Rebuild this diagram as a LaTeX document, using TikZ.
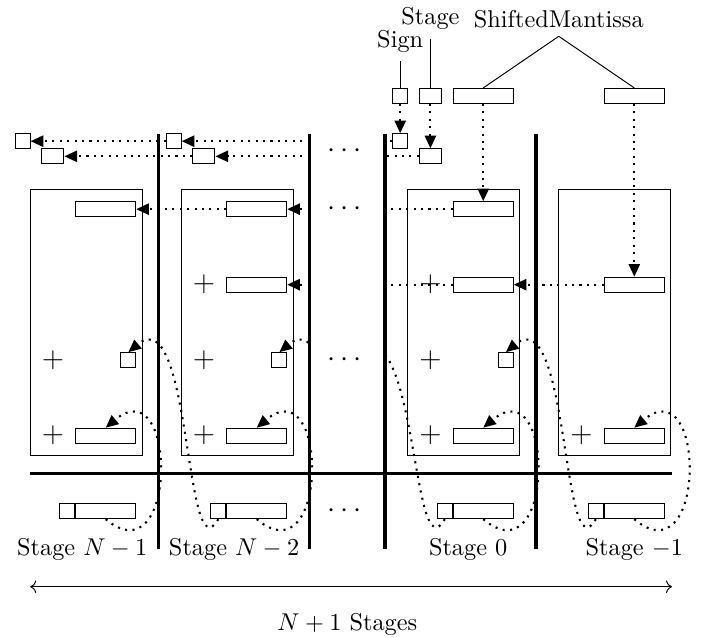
\documentclass[tikz,border=0pt]{standalone}
\usepackage{amsmath}
\usetikzlibrary{arrows.meta,positioning}

\begin{document}
\begin{tikzpicture}[x=1.092cm, y=1.092cm,
  stagebox/.style={draw, minimum width=16.2mm, minimum height=38.4mm,
                   inner sep=0pt},
  wbox/.style={draw, minimum width=8.68mm, minimum height=2.17mm, inner sep=0pt},
  sqbox/.style={draw, minimum width=2.17mm, minimum height=2.17mm, inner sep=0pt},
  mbox/.style={draw, minimum width=3.2mm, minimum height=2.17mm, inner sep=0pt},
  plus/.style={font=\large, inner sep=0pt},
  dots/.style={font=\large, inner sep=0pt},
  flow/.style={line width=0.85pt, dash pattern=on 0.85pt off 2.2pt},
  arr/.style={flow, -{Triangle[length=5.2pt, width=4.6pt]}},
  wall/.style={line width=1.4pt}]
\useasboundingbox (-0.4,-2.17) rectangle (8.91,6.27);
\foreach \n/\x in {1/0, 2/2, 3/5, 4/7} {
  \node[stagebox] (col\n) at (\x+0.74,2) {};
  \node[wbox] (w\n) at (\x+1,0.5) {};
  \node[plus] (p\n) at (\x+0.3,0.5) {$+$};
  \node[wbox] (bw\n) at (\x+1,-0.5) {};
  \node[sqbox, left=0pt of bw\n] (bs\n) {};
}
\foreach \n/\x in {1/0, 2/2, 3/5} {
  \node[wbox] (a\n) at (\x+1,3.5) {};
  \node[sqbox] (q\n) at (\x+1.3,1.5) {};
  \node[plus] (pq\n) at (\x+0.3,1.5) {$+$};
  \node[sqbox] (s\n) at (\x-0.1,4.4) {};
  \node[mbox] (t\n) at (\x+0.3,4.2) {};
}
\foreach \n/\x in {2/2, 3/5, 4/7}
  \node[wbox] (b\n) at (\x+1,2.5) {};
\node[plus] (pb2) at (2.3,2.5) {$+$};
\node[plus] (pb3) at (5.3,2.5) {$+$};

\node[sqbox] (sign) at (4.9,5) {};
\node[mbox] (stage) at (5.3,5) {};
\node[wbox] (sm1) at (6,5) {};
\node[wbox] (sm2) at (8,5) {};
\node (signlab) at (4.9,5.72) {Sign};
\node (stagelab) at (5.3,6.02) {Stage};
\node (smlab) at (7,6.02) {ShiftedMantissa};
\draw (signlab) -- (sign);
\draw (stagelab) -- (stage);
\draw (smlab.south) -- (sm1.north);
\draw (smlab.south) -- (sm2.north);

\foreach \x in {1.7,3.7,4.7,6.7}
  \draw[wall] (\x,-1) -- (\x,4.5);
\draw[wall] (0,0) -- (8.5,0);

\foreach \i/\y in {1/4.4, 2/4.2, 3/3.5, 4/2.5} {
  \coordinate (e\i) at (3.7,\y);
  \coordinate (f\i) at (4.7,\y);
}
\foreach \y [count=\i] in {4.27,3.5,1.5,-0.5}
  \node[dots] (d\i) at (4.2,\y) {$\cdots$};

\draw[arr] (sign) -- (s3);
\draw[arr] (stage) -- (t3);
\draw[arr] (sm1) -- (a3);
\draw[arr] (sm2) -- (b4);
\draw[flow] (s3) -- (f1);
\draw[flow] (t3) -- (f2);
\draw[flow] (a3) -- (f3);
\draw[flow] (b3) -- (f4);
\draw[arr] (e1) -- (s2);
\draw[arr] (e2) -- (t2);
\draw[arr] (e3) -- (a2);
\draw[arr] (e4) -- (b2);
\draw[arr] (s2) -- (s1);
\draw[arr] (t2) -- (t1);
\draw[arr] (a2) -- (a1);
\draw[arr] (b4) -- (b3);

\foreach \n in {1,...,4}
  \draw[arr] (bw\n.south) .. controls +(-40:1.25) and +(40:1.25) .. (w\n.north);
\draw[arr] (bs2.south) .. controls +(-120:0.9) and +(40:1.1) .. (q1.north);
\draw[arr] (bs4.south) .. controls +(-120:0.9) and +(40:1.1) .. (q3.north);
\coordinate (q0) at (4.3,1.6);
\coordinate (bs0) at (4.5,-0.6);
\begin{scope}
  \clip (4.7,-1) rectangle (6,2.2);
  \draw[flow] (bs3.south) .. controls +(-120:0.9) and +(40:1.1) .. (q0);
\end{scope}
\begin{scope}
  \clip (3,1) rectangle (3.7,2.2);
  \draw[arr] (bs0) .. controls +(-120:0.9) and +(40:1.1) .. (q2.north);
\end{scope}

\node (lab1) at (0.69,-1) {Stage $N-1$};
\node (lab2) at (2.70,-1) {Stage $N-2$};
\node (lab3) at (5.80,-1) {Stage $0$};
\node (lab4) at (8.0,-1) {Stage $-1$};
\coordinate (lend) at (0,-1.5);
\coordinate (rend) at (8.5,-1.5);
\draw[<->] (lend) -- (rend);
\node (total) at (4.2,-2) {$N+1$ Stages};
\end{tikzpicture}
\end{document}
